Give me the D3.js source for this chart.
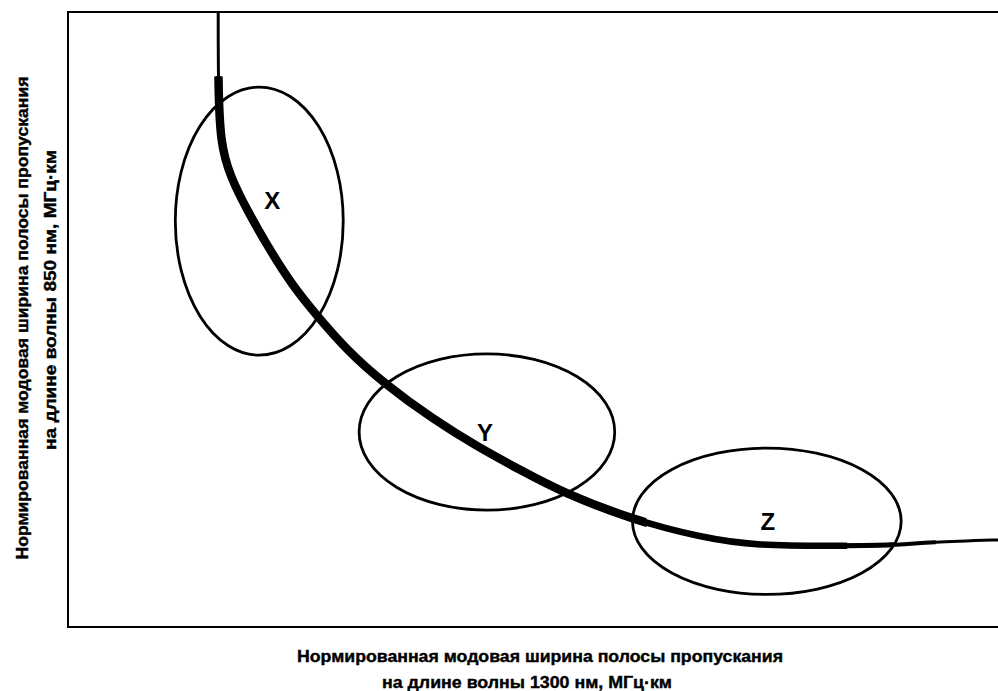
<!DOCTYPE html>
<html>
<head>
<meta charset="utf-8">
<script src="https://cdn.jsdelivr.net/npm/d3@7"></script>
<style>
    html, body { margin: 0; padding: 0; background: #fff; overflow: hidden; }
    svg { display: block; }
    .axis-label { font-family: "Liberation Sans", Arial, sans-serif; font-weight: bold; font-size: 17px; fill: #000; stroke: #000; stroke-width: 0.4px; }
    .zone-label { font-family: "Liberation Sans", Arial, sans-serif; font-weight: bold; font-size: 24px; fill: #000; }
</style>
</head>
<body>
<svg id="chart"></svg>
<script>
// Curve: normalised bandwidth at 1300 nm (x) vs 850 nm (y), arbitrary units 0..100
const curveX = [16.1, 16.1, 16.1, 16.3, 17.4, 19.2, 21.2, 24.0, 26.7, 29.9, 33.8, 39.2, 43.9, 48.5, 53.1, 60.6, 67.8, 73.5, 83.6, 88.5, 92.2, 100.5, 100.5];
const curveY = [100, 100, 88.9, 78.7, 73.2, 67.8, 62.4, 55.6, 50.6, 45.0, 39.7, 33.7, 29.3, 25.5, 21.8, 17.4, 14.6, 13.2, 13.2, 13.3, 13.8, 14.2, 14.2];

// Zones drawn as ellipses
const zoneNames = ['X', 'Y', 'Z'];
const zoneCx = [20.5, 44.9, 74.9];
const zoneCy = [66.0, 31.7, 17.2];
const zoneRx = [9.0, 13.7, 14.4];
const zoneRy = [21.8, 12.7, 11.9];
const zoneLabelX = [21.9, 44.7, 75.0];
const zoneLabelY = [69.4, 31.7, 17.1];

const xTitle = ['Нормированная модовая ширина полосы пропускания', 'на длине волны 1300 нм, МГц·км'];
const yTitle = ['Нормированная модовая ширина полосы пропускания', 'на длине волны 850 нм, МГц·км'];

const width = 998, height = 691;
const margin = { left: 68, top: 12, right: -3, bottom: 64 };

const svg = d3.select('#chart').attr('width', width).attr('height', height);

const x = d3.scaleLinear().domain([0, 100]).range([margin.left, width - margin.right]);
const y = d3.scaleLinear().domain([0, 100]).range([height - margin.bottom, margin.top]);

// frame (right side runs off the page)
svg.append('rect')
    .attr('x', x(0))
    .attr('y', y(100))
    .attr('width', x(100) - x(0))
    .attr('height', y(0) - y(100))
    .attr('fill', 'none')
    .attr('stroke', '#000')
    .attr('stroke-width', 2);

const points = curveX.map((v, i) => [v, curveY[i]]);
const line = d3.line()
    .x(d => x(d[0]))
    .y(d => y(d[1]))
    .curve(d3.curveBasis);

// the curve is thin at the ends and heavy in the middle:
// draw it several times, each clipped to an x band
const bands = [
    { x1: 110, yTop: 100, w: 3 },
    { x1: 93, yTop: 89.5, w: 4 },
    { x1: 88.5, yTop: 89.5, w: 5 },
    { x1: 83.5, yTop: 89.5, w: 6.5 },
    { x1: 62, yTop: 89.5, w: 8.5 }
];

const defs = svg.append('defs');
bands.forEach((b, i) => {
    defs.append('clipPath')
        .attr('id', 'band' + i)
        .append('rect')
        .attr('x', x(0))
        .attr('y', y(b.yTop))
        .attr('width', x(b.x1) - x(0))
        .attr('height', y(0) - y(b.yTop));

    svg.append('path')
        .attr('d', line(points))
        .attr('fill', 'none')
        .attr('stroke', '#000')
        .attr('stroke-width', b.w)
        .attr('stroke-linejoin', 'round')
        .attr('clip-path', `url(#band${i})`);
});

// ellipses
const zones = zoneNames.map((name, i) => ({
    name, cx: zoneCx[i], cy: zoneCy[i], rx: zoneRx[i], ry: zoneRy[i],
    lx: zoneLabelX[i], ly: zoneLabelY[i]
}));

svg.selectAll('.zone')
    .data(zones)
    .enter()
    .append('ellipse')
    .attr('class', 'zone')
    .attr('cx', d => x(d.cx))
    .attr('cy', d => y(d.cy))
    .attr('rx', d => x(d.rx) - x(0))
    .attr('ry', d => y(0) - y(d.ry))
    .attr('fill', 'none')
    .attr('stroke', '#000')
    .attr('stroke-width', 2.8);

svg.selectAll('.zone-label')
    .data(zones)
    .enter()
    .append('text')
    .attr('class', 'zone-label')
    .attr('x', d => x(d.lx))
    .attr('y', d => y(d.ly))
    .attr('dy', '0.36em')
    .attr('text-anchor', 'middle')
    .text(d => d.name);

// x axis title
const xTitlePos = [{ cx: 540, by: 662, len: 486 }, { cx: 527, by: 688, len: 290 }];
svg.selectAll('.x-title')
    .data(xTitle)
    .enter()
    .append('text')
    .attr('class', 'axis-label x-title')
    .attr('x', (d, i) => xTitlePos[i].cx)
    .attr('y', (d, i) => xTitlePos[i].by)
    .attr('text-anchor', 'middle')
    .attr('textLength', (d, i) => xTitlePos[i].len)
    .attr('lengthAdjust', 'spacingAndGlyphs')
    .text(d => d);

// y axis title (rotated)
const yTitlePos = [{ cy: 318, bx: 28, len: 483 }, { cy: 300, bx: 56, len: 300 }];
svg.selectAll('.y-title')
    .data(yTitle)
    .enter()
    .append('text')
    .attr('class', 'axis-label y-title')
    .attr('transform', (d, i) => `translate(${yTitlePos[i].bx},${yTitlePos[i].cy}) rotate(-90)`)
    .attr('text-anchor', 'middle')
    .attr('textLength', (d, i) => yTitlePos[i].len)
    .attr('lengthAdjust', 'spacingAndGlyphs')
    .text(d => d);
</script>
</body>
</html>
